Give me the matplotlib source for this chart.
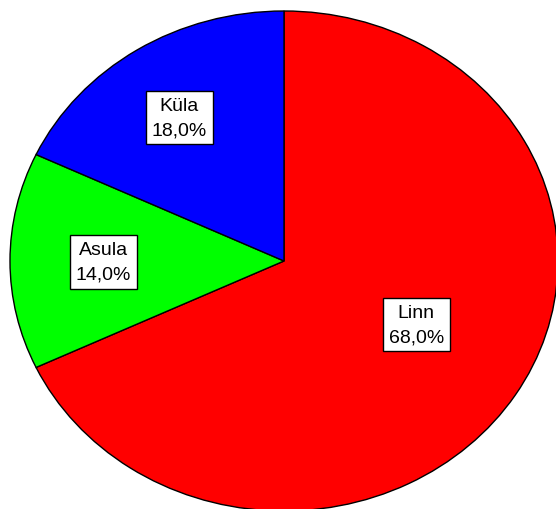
import numpy as np
import matplotlib.pyplot as plt

# Data
labels = ['Linn', 'Asula', 'Küla']
shares = [68.0, 14.0, 18.0]
colors = ['#ff0000', '#00ff00', '#0000ff']

# label placement: radius and angle shift from the wedge middle
label_r = [0.546, 0.66, 0.69]
label_shift = [4.6, 0.3, 1.3]

plt.rcParams['font.family'] = ['Liberation Sans', 'DejaVu Sans']

fig = plt.figure(figsize=(5.56, 5.10), dpi=100)
# axes stretched so the pie becomes a slight ellipse, as in the reference
ax = fig.add_axes([10 / 556, -2 / 510, 548 / 556, 500 / 510])

wedges, _ = ax.pie(shares, colors=colors, startangle=90, counterclock=False,
                   wedgeprops=dict(edgecolor='black', linewidth=1.0))
ax.set_aspect('auto')
ax.set_xlim(-1, 1)
ax.set_ylim(-1, 1)
ax.axis('off')

for w, lab, val, r, sh in zip(wedges, labels, shares, label_r, label_shift):
    mid = np.deg2rad((w.theta1 + w.theta2) / 2 + sh)
    txt = f"{lab}\n{val:.1f}%".replace('.', ',')
    ax.text(r * np.cos(mid), r * np.sin(mid), txt, ha='center', va='center',
            fontsize=14, linespacing=1.6,
            bbox=dict(boxstyle='square,pad=0.3', facecolor='white',
                      edgecolor='black', linewidth=1.0))

fig.savefig('out.png', dpi=100)
